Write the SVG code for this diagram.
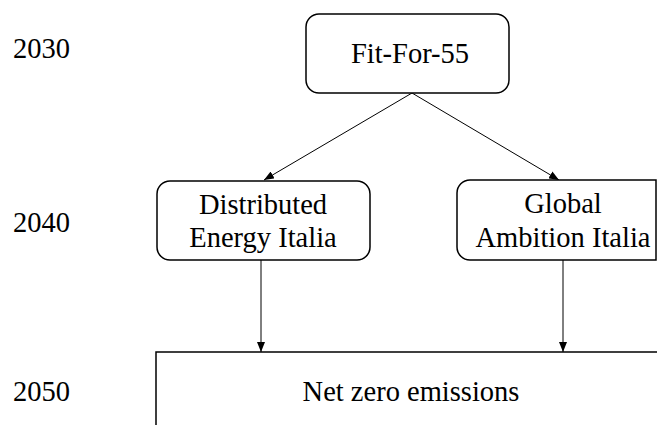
<svg xmlns="http://www.w3.org/2000/svg" width="657" height="425" viewBox="0 0 657 425">
  <style>
    text { font-family: "Liberation Serif", "Times New Roman", serif; font-size: 28.5px; fill: #000; }
    .mid { text-anchor: middle; }
    .box { fill: #fff; stroke: #000; stroke-width: 1.5; }
    .edge { fill: none; stroke: #000; stroke-width: 1; marker-end: url(#arrow); }
  </style>
  <defs>
    <marker id="arrow" viewBox="0 0 10 8" refX="10" refY="4" markerWidth="10" markerHeight="8" markerUnits="userSpaceOnUse" orient="auto">
      <path d="M0,0 L10,4 L0,8 Z" fill="#000"/>
    </marker>
  </defs>
  <rect width="657" height="425" fill="#fff"/>

  <!-- timeline years -->
  <g id="years">
    <text x="13" y="58">2030</text>
    <text x="13" y="232">2040</text>
    <text x="13" y="401">2050</text>
  </g>

  <!-- connectors -->
  <g id="connectors">
    <line class="edge" x1="412" y1="93" x2="264" y2="180"/>
    <line class="edge" x1="412" y1="93" x2="559" y2="180"/>
    <line class="edge" x1="261" y1="260" x2="261" y2="352"/>
    <line class="edge" x1="563" y1="260" x2="563" y2="352"/>
  </g>

  <g id="fit-for-55">
    <rect class="box" x="306" y="14" width="203" height="79" rx="13"/>
    <text class="mid" x="410" y="63">Fit-For-55</text>
  </g>

  <g id="distributed-energy">
    <rect class="box" x="157" y="181" width="213" height="79" rx="13"/>
    <text class="mid" x="263" y="214">Distributed</text>
    <text class="mid" x="263" y="247">Energy Italia</text>
  </g>

  <g id="global-ambition">
    <path class="box" d="M656,180 H470 A13,13 0 0 0 457,193 V247 A13,13 0 0 0 470,260 H656 Z"/>
    <text class="mid" x="563" y="213">Global</text>
    <text class="mid" x="563" y="247">Ambition Italia</text>
  </g>

  <g id="net-zero">
    <path class="box" d="M156,426 V352 H658"/>
    <text class="mid" x="411" y="401">Net zero emissions</text>
  </g>
</svg>
